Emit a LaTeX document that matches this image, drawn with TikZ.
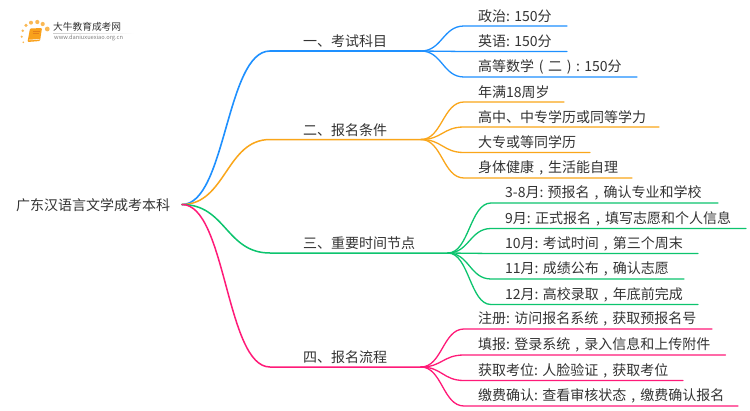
\documentclass[tikz,border=0pt]{standalone}
\usepackage{fontspec}
\setmainfont{Noto Sans CJK SC}
\usetikzlibrary{calc}
\definecolor{cblue}{HTML}{1E90FF}
\definecolor{corange}{HTML}{FAA61A}
\definecolor{cgreen}{HTML}{0CC46E}
\definecolor{cpink}{HTML}{FF1A78}
\definecolor{ctext}{HTML}{333333}
\definecolor{clogo}{HTML}{F9A11B}
\newcommand{\zc}{\makebox[1em][c]{,}}
\newcommand{\zl}{\makebox[1em][c]{(}}
\newcommand{\zr}{\makebox[1em][c]{)}}
\tikzset{
  lbl/.style={font=\fontsize{14}{16}\selectfont,text=ctext,inner sep=0pt,anchor=west},
  conn/.style={line width=1.5pt,line cap=round},
}
% \leafitem{name}{parent}{colour}{x text}{y line}{x flat}{x end}{text}
\newcommand{\leafitem}[8]{%
  \coordinate (#1s) at (#6,#5);
  \coordinate (#1e) at (#7,#5);
  \node[lbl] (#1) at (#4,#5-10) {#8};
  \draw[conn,#3,line width=1.3pt] (#2) .. controls +(21,0) and +(-21,0) .. (#1s) -- (#1e);
}
\begin{document}
\begin{tikzpicture}[x=1pt,y=-1pt]
\useasboundingbox (0,0) rectangle (750,410);
\fill[white] (0,0) rectangle (750,410);

% logo
\foreach \px/\py/\r in {23.3/42.3/0.9,21.7/36.7/1.2,22.7/30.7/1.4,26/25.3/1.8,31/22.7/2.0,37.3/22/2.1,42.7/24/2.1,47.3/29/2.4}
  \fill[clogo,opacity=.75] (\px,\py) circle (\r);
\fill[clogo,rounded corners=1pt] (30,28.5) -- (42,28) -- (40,41) -- (27.5,42) -- cycle;
\draw[white,line width=.5pt] (29,40) -- (39.5,39.3);
\draw[orange!60!brown,line width=.6pt] (33,31) -- (39.5,31) (32.5,33.5) -- (39,33.5);
\shade[left color=gray!40,right color=white] (53,33) rectangle (134,33.6);
\node[inner sep=0pt,anchor=west,font=\fontsize{9.7}{11}\selectfont,text=ctext] (logot) at (53,27) {大牛教育成考网};
\node[inner sep=0pt,anchor=west,font=\fontsize{5.7}{7}\selectfont,text=gray] (logou) at (54,38.3) {www.daniuxuexiao.org.cn};

% root
\node[lbl] (root) at (16,205) {广东汉语言文学成考本科};
\coordinate (r) at (182,204.5);

% main branches
\coordinate (b1a) at (270,51);  \coordinate (b1) at (421,51);
\coordinate (b2a) at (270,139.5); \coordinate (b2) at (421,139.5);
\coordinate (b3a) at (270,253); \coordinate (b3) at (448,253);
\coordinate (b4a) at (270,367); \coordinate (b4) at (421,367);
\draw[conn,cblue,line width=1.6pt] (r) .. controls +(44,0) and +(-44,0) .. (b1a) -- (b1);
\draw[conn,corange,line width=1.5pt] (r) .. controls +(44,0) and +(-44,0) .. (b2a) -- (b2);
\draw[conn,cgreen,line width=1.5pt] (r) .. controls +(44,0) and +(-44,0) .. (b3a) -- (b3);
\draw[conn,cpink,line width=1.5pt] (r) .. controls +(44,0) and +(-44,0) .. (b4a) -- (b4);
\node[lbl] (t1) at (303,41.5) {一、考试科目};
\node[lbl] (t2) at (303,130) {二、报名条件};
\node[lbl] (t3) at (303,243.5) {三、重要时间节点};
\node[lbl] (t4) at (303,357.5) {四、报名流程};

% leaves
\leafitem{a1}{b1}{cblue}{478}{26}{464}{567}{政治: 150分}
\leafitem{a2}{b1}{cblue}{478}{51.5}{464}{567}{英语: 150分}
\leafitem{a3}{b1}{cblue}{478}{77}{464}{637}{高等数学\zl 二\zr : 150分}

\leafitem{c1}{b2}{corange}{478}{102}{464}{564}{年满18周岁}
\leafitem{c2}{b2}{corange}{478}{127}{464}{659}{高中、中专学历或同等学力}
\leafitem{c3}{b2}{corange}{478}{152.5}{464}{590}{大专或等同学历}
\leafitem{c4}{b2}{corange}{478}{178}{464}{632}{身体健康\zc 生活能自理}

\leafitem{d1}{b3}{cgreen}{505}{203}{491}{718}{3-8月: 预报名\zc 确认专业和学校}
\leafitem{d2}{b3}{cgreen}{505}{228.5}{491}{746}{9月: 正式报名\zc 填写志愿和个人信息}
\leafitem{d3}{b3}{cgreen}{505}{253.5}{491}{698}{10月: 考试时间\zc 第三个周末}
\leafitem{d4}{b3}{cgreen}{505}{279}{491}{684}{11月: 成绩公布\zc 确认志愿}
\leafitem{d5}{b3}{cgreen}{505}{304.5}{491}{698}{12月: 高校录取\zc 年底前完成}

\leafitem{e1}{b4}{cpink}{478}{329}{464}{712}{注册: 访问报名系统\zc 获取预报名号}
\leafitem{e2}{b4}{cpink}{478}{355}{464}{725.5}{填报: 登录系统\zc 录入信息和上传附件}
\leafitem{e3}{b4}{cpink}{478}{380.5}{464}{683}{获取考位: 人脸验证\zc 获取考位}
\leafitem{e4}{b4}{cpink}{478}{406}{464}{738}{缴费确认: 查看审核状态\zc 缴费确认报名}
\end{tikzpicture}
\end{document}
